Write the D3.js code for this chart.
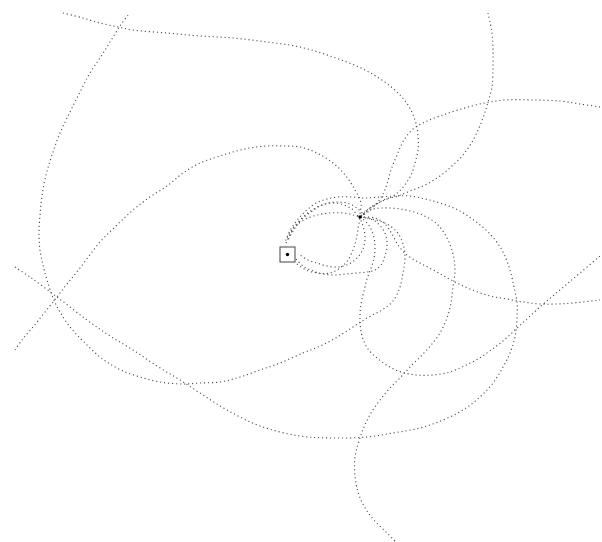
<!DOCTYPE html>
<html>
<head>
<meta charset="utf-8">
<script src="https://cdn.jsdelivr.net/npm/d3@7"></script>
<style>
  html, body { margin: 0; padding: 0; background: #fff; }
  svg { display: block; }
</style>
</head>
<body>
<svg id="chart" width="602" height="542"></svg>
<script>
// trajectory samples, in plot units
const centralBody = [287.5, 254.5];
const launchPoint = [360, 217];

const pathE = [[15,267],[30,277],[57,297],[87,320],[110,336],[133,350],[157,366],[180,380],[203,395],[227,410],[260,426],[300,436],[333,438],[367,437],[393,433],[420,428],[443,420],[463,410],[480,397],[493,383],[503,367],[510,353],[515,337],[517,320],[517,303],[514,287],[510,270],[503,252],[491,235],[475,221],[458,210],[440,203],[425,199],[410,196],[395,196],[380,197],[365,198],[352,197],[338,197],[327,199],[318,202],[308,209],[299,218],[291,229],[285,242]];
const pathB = [[128,15],[120,26],[110,42],[100,58],[90,73],[80,92],[70,112],[60,133],[52,155],[46,175],[42,196],[40,215],[39,234],[40,250],[43,265],[47,280],[53,298],[60,312],[70,327],[80,338],[90,348],[100,357],[110,364],[123,371],[140,377],[160,382],[183,384],[200,383],[220,382],[240,377],[260,370],[280,363],[303,353],[318,347],[334,339],[350,329],[367,318],[382,310],[393,301],[400,287],[403,273],[405,258],[403,244],[397,232],[385,223],[372,219],[360,217]];
const pathA = [[63,13],[83,18],[100,23],[118,27],[133,30],[167,33],[200,36],[233,38],[267,42],[300,47],[333,57],[365,70],[390,86],[406,102],[415,120],[418,136],[418,150],[415,163],[411,175],[404,186],[396,194],[387,199],[376,204],[367,210],[360,217],[352,209],[341,204],[330,203],[320,206],[311,212],[302,219],[295,228],[288,240]];
const pathC = [[488,13],[492,33],[493,50],[493,67],[492,87],[488,102],[484,115],[479,128],[472,142],[463,155],[452,166],[440,176],[425,185],[410,191],[398,196],[386,199],[375,205],[366,211],[360,217]];
const pathD = [[600,107],[580,104],[560,101],[533,100],[505,100],[480,104],[458,110],[440,116],[425,122],[413,129],[404,140],[397,155],[391,170],[387,184],[383,194],[377,203],[369,211],[360,217]];
const pathF = [[15,350],[22,340],[33,327],[45,312],[57,297],[67,284],[80,268],[100,242],[118,224],[133,210],[150,197],[167,186],[183,173],[200,163],[217,157],[233,152],[250,148],[267,146],[284,146],[300,147],[317,153],[333,163],[346,176],[355,190],[361,203],[360,217],[363,226],[365,236],[364,246],[361,253],[356,259],[349,264],[338,267],[327,266],[317,263],[308,260],[300,255]];
const pathG = [[360,217],[375,218],[385,224],[392,234],[398,245],[407,255],[420,263],[437,272],[453,281],[470,289],[490,296],[507,299],[523,302],[540,304],[557,304],[573,303],[600,300]];
const pathH = [[360,217],[368,224],[373,234],[375,246],[374,258],[371,268],[367,279],[364,291],[361,304],[360,320],[362,336],[368,349],[377,358],[388,366],[401,372],[417,375],[433,375],[450,372],[464,366],[478,359],[491,350],[503,341],[515,330],[528,318],[541,306],[554,295],[567,284],[580,273],[600,256]];
const pathI = [[360,217],[370,210],[382,208],[400,209],[420,214],[437,224],[447,238],[453,254],[455,270],[453,287],[451,303],[447,318],[440,333],[432,344],[422,355],[410,367],[400,378],[390,388],[380,400],[371,413],[364,427],[359,441],[355,457],[355,475],[358,492],[364,506],[373,519],[386,532],[399,545]];
const loopOuter = [[296,259],[303,266],[313,271],[323,274],[334,275],[346,274],[357,273],[367,272],[375,270],[381,265],[385,256],[387,246],[386,236],[382,228],[375,221],[367,218],[360,217]];
const loopMiddle = [[297,264],[306,270],[318,273],[330,273],[340,268],[348,260],[353,250],[356,240],[358,229],[360,217]];
const loopTop = [[286,243],[291,233],[297,225],[306,219],[317,215],[330,213],[343,213],[353,215],[360,217]];
const loopUpper = [[287,238],[293,228],[302,218],[312,210],[325,204],[338,202],[350,204],[358,209],[364,215]];

const trajectories = [pathE, pathB, pathA, pathC, pathD, pathF, pathG, pathH, pathI, loopOuter, loopMiddle, loopTop, loopUpper];

const width = 602;
const height = 542;
const x = d3.scaleLinear().domain([0, 602]).range([0, width]);
const y = d3.scaleLinear().domain([0, 542]).range([0, height]);

const svg = d3.select('#chart');

const line = d3.line()
  .x((d) => x(d[0]))
  .y((d) => y(d[1]))
  .curve(d3.curveCatmullRom.alpha(0.5));

svg.append('g')
  .selectAll('path')
  .data(trajectories)
  .join('path')
  .attr('d', line)
  .attr('fill', 'none')
  .attr('stroke', '#444')
  .attr('stroke-width', 1.1)
  .attr('stroke-dasharray', '1.1,2.9');

// the central body: boxed dot
const box = 15;
svg.append('rect')
  .attr('x', x(centralBody[0]) - box / 2)
  .attr('y', y(centralBody[1]) - box / 2)
  .attr('width', box)
  .attr('height', box)
  .attr('fill', '#fff')
  .attr('stroke', '#444')
  .attr('stroke-width', 1);

svg.selectAll('circle.body')
  .data([centralBody, launchPoint])
  .join('circle')
  .attr('class', 'body')
  .attr('cx', (d) => x(d[0]))
  .attr('cy', (d) => y(d[1]))
  .attr('r', 1.7)
  .attr('fill', '#000');
</script>
</body>
</html>
